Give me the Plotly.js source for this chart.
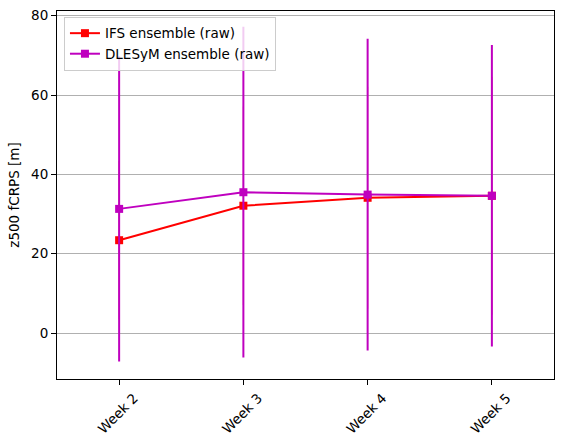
<!DOCTYPE html>
<html>
<head>
<meta charset="utf-8">
<script src="https://cdn.plot.ly/plotly-3.0.1.min.js"></script>
<style>
  html, body { margin: 0; padding: 0; background: #fff; }
  #chart { width: 562px; height: 445px; }
</style>
</head>
<body>
<div id="chart"></div>
<script>
// weeks and scores (z500 fCRPS, metres)
var weeks = ["Week 2", "Week 3", "Week 4", "Week 5"];
var ifsMean = [23.4, 32.1, 34.1, 34.6];
var ifsSpread = [20, 25, 28, 30];
var dlesymMean = [31.3, 35.5, 34.9, 34.6];
var dlesymSpread = [38.5, 41.7, 39.3, 38.0];

var font = "DejaVu Sans, sans-serif";

function series(name, y, err, color, errWidth) {
    return {
        type: "scatter",
        mode: "lines+markers",
        name: name,
        x: weeks,
        y: y,
        line: {color: color, width: 2},
        marker: {color: color, symbol: "square", size: 8},
        error_y: {type: "data", array: err, visible: true, color: color, thickness: errWidth, width: 0}
    };
}

var data = [
    // IFS bars sit under the DLESyM ones and stay hidden
    series("IFS ensemble (raw)", ifsMean, ifsSpread, "#ff0000", 0.8),
    series("DLESyM ensemble (raw)", dlesymMean, dlesymSpread, "#bf00bf", 2)
];

var layout = {
    width: 562,
    height: 445,
    margin: {l: 57, r: 8, t: 11, b: 66},
    paper_bgcolor: "#fff",
    plot_bgcolor: "#fff",
    font: {family: font, size: 13.5, color: "#000"},
    showlegend: true,
    legend: {
        x: 0.014, y: 0.984, xanchor: "left", yanchor: "top",
        bgcolor: "rgba(255,255,255,0.8)",
        bordercolor: "#cccccc", borderwidth: 1,
        font: {family: font, size: 13.5},
        tracegroupgap: 0
    },
    xaxis: {
        type: "category",
        range: [-0.5, 3.5],
        tickangle: -45,
        ticklabelshift: 15,
        ticklabelstandoff: 0,
        ticks: "outside", ticklen: 5, tickcolor: "#000",
        showgrid: false,
        showline: true, mirror: true, linecolor: "#000", linewidth: 1,
        zeroline: false
    },
    yaxis: {
        range: [-11.6, 81.2],
        dtick: 20, tick0: 0,
        ticks: "outside", ticklen: 5, tickcolor: "#000",
        showgrid: true, gridcolor: "#b0b0b0", gridwidth: 1,
        showline: true, mirror: true, linecolor: "#000", linewidth: 1,
        zeroline: false,
        title: {text: "z500 fCRPS [m]", font: {family: font, size: 13.5}, standoff: 8}
    }
};

Plotly.newPlot("chart", data, layout, {displayModeBar: false, staticPlot: true});
</script>
</body>
</html>
